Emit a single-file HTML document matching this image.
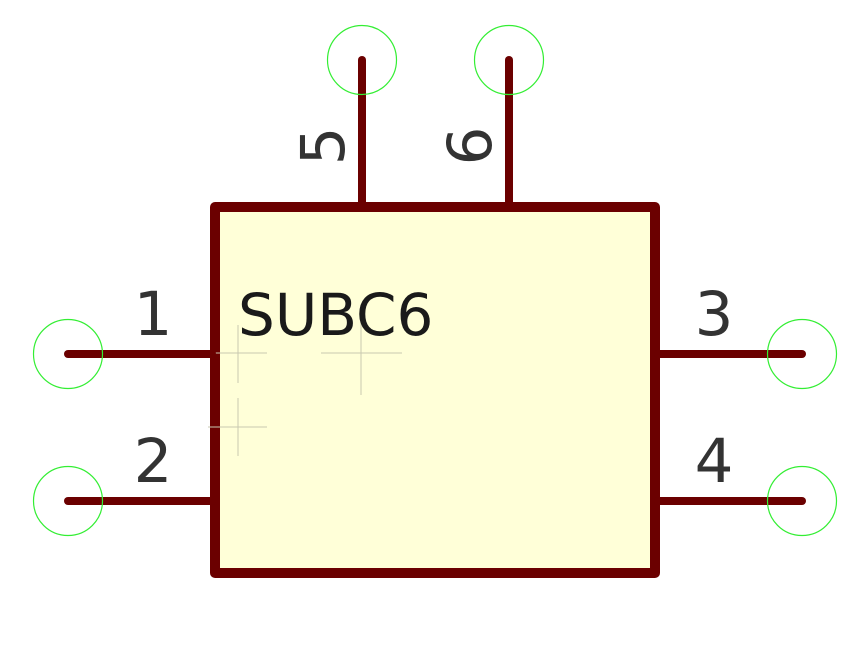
<!DOCTYPE html>
<html><head><style>html,body{margin:0;padding:0;background:#fff;}svg{display:block}</style></head>
<body>
<svg width="868" height="646" viewBox="0 0 868 646" xmlns="http://www.w3.org/2000/svg">
<rect x="215" y="207" width="440" height="366" fill="#ffffd8" stroke="#6b0000" stroke-width="10" stroke-linejoin="round"/>
<g stroke="#c8c8b0" stroke-width="1">
<line x1="208" y1="353" x2="267" y2="353"/><line x1="238" y1="325" x2="238" y2="383"/>
<line x1="321" y1="353" x2="402" y2="353"/><line x1="361" y1="313" x2="361" y2="395"/>
<line x1="208" y1="427" x2="267" y2="427"/><line x1="238" y1="398" x2="238" y2="456"/>
</g>
<g stroke="#6b0000" stroke-width="8" stroke-linecap="round">
<line x1="68" y1="354" x2="212" y2="354"/>
<line x1="68" y1="501" x2="212" y2="501"/>
<line x1="658" y1="354" x2="802" y2="354"/>
<line x1="658" y1="501" x2="802" y2="501"/>
<line x1="362" y1="60" x2="362" y2="204"/>
<line x1="509" y1="60" x2="509" y2="204"/>
</g>
<g fill="none" stroke="#33ee33" stroke-width="1.2">
<circle cx="68" cy="354" r="34.5"/><circle cx="68" cy="501" r="34.5"/>
<circle cx="802" cy="354" r="34.5"/><circle cx="802" cy="501" r="34.5"/>
<circle cx="362" cy="60" r="34.5"/><circle cx="509" cy="60" r="34.5"/>
</g>
<g font-family="DejaVu Sans, Liberation Sans, sans-serif" font-size="61" fill="#333">
<text x="153" y="335" text-anchor="middle">1</text>
<text x="153" y="482" text-anchor="middle">2</text>
<text x="714" y="335" text-anchor="middle">3</text>
<text x="714" y="482" text-anchor="middle">4</text>
<text transform="translate(344,146) rotate(-90)" text-anchor="middle">5</text>
<text transform="translate(491,146) rotate(-90)" text-anchor="middle">6</text>
</g>
<text x="238" y="335" font-family="DejaVu Sans, Liberation Sans, sans-serif" font-size="58" fill="#1a1a1a">SUBC6</text>
</svg>
</body></html>
